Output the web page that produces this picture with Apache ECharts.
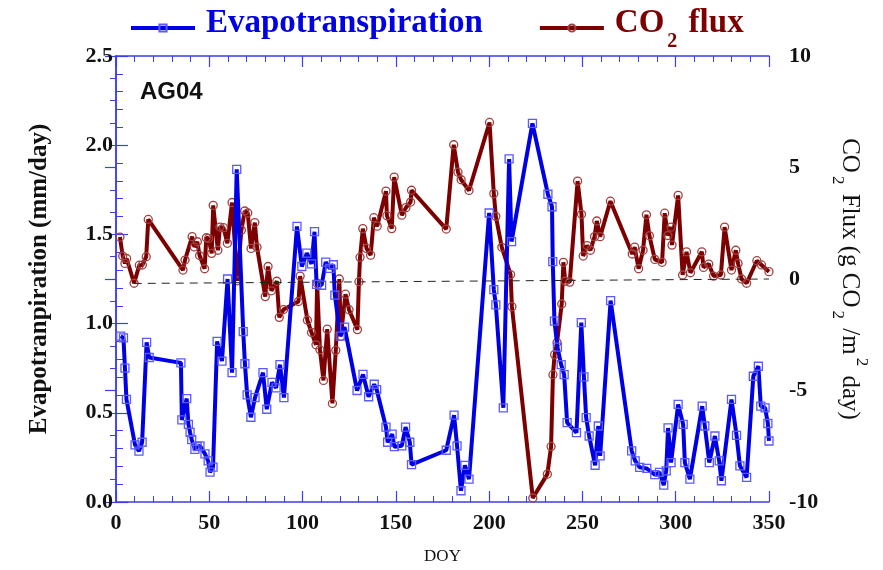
<!DOCTYPE html>
<html>
<head>
<meta charset="utf-8">
<script src="https://cdn.jsdelivr.net/npm/echarts@6/dist/echarts.min.js"></script>
<style>html,body{margin:0;padding:0;background:#fff}#c{width:883px;height:570px}</style>
</head>
<body>
<div id="c"></div>
<script>
// ---- data ----
const etDoy = [2.5,4,4.8,5.6,10.2,12.3,14,16.4,17.8,34.8,35.3,37.9,38.8,39.7,40.6,42.3,43.5,45,47.7,49.4,50.4,52,54.2,56.8,59.8,62.2,64.7,68.2,69.1,70.3,72.3,74.5,78.8,80.8,83.6,85.8,87.9,90,97,99.6,102.3,104.8,106.4,107.5,110.2,112.4,114.6,116.5,117.3,120.2,122.5,129.2,132.4,135.4,138.4,139.7,144.7,145.6,148,149.2,153.2,155.2,157.5,158.4,177,181.2,182.8,184.9,187,189.2,200,202.5,203.6,207.6,210.7,212,223.2,231.5,233.7,234.1,235,236.6,238.6,240.2,241.8,246.8,249.4,250.8,252,253.6,256.8,258.5,259.5,265.1,276.4,278.3,280.7,284.5,288.8,291.3,293.6,294.9,295.9,297.5,301.3,304,304.9,307.6,314.2,315.6,318,321,323.3,324.5,329.9,332.6,334.4,338,341.6,344.3,345.6,347.9,349.4,350];
const etVal = [0.93,0.92,0.75,0.575,0.32,0.285,0.335,0.895,0.81,0.78,0.46,0.58,0.435,0.39,0.35,0.295,0.31,0.315,0.27,0.23,0.167,0.195,0.9,0.79,1.25,0.725,1.865,0.955,0.775,0.6,0.475,0.585,0.725,0.52,0.67,0.64,0.77,0.585,1.545,1.32,1.395,1.335,1.515,1.22,1.215,1.345,1.31,1.33,1.16,0.93,0.98,0.625,0.715,0.59,0.66,0.63,0.42,0.335,0.38,0.31,0.315,0.42,0.335,0.21,0.29,0.487,0.315,0.063,0.205,0.128,1.62,1.19,1.105,0.528,1.923,1.46,2.122,1.725,1.655,1.347,1.014,0.868,0.77,0.714,0.445,0.389,1.005,0.701,0.473,0.37,0.206,0.426,0.258,1.129,0.287,0.23,0.194,0.188,0.153,0.166,0.095,0.175,0.415,0.221,0.547,0.435,0.221,0.128,0.537,0.426,0.221,0.37,0.23,0.119,0.575,0.374,0.203,0.138,0.705,0.761,0.537,0.528,0.44,0.342];
const co2Doy = [2.1,3.6,4.8,5.7,9.7,12.5,14.1,16.2,17.3,35.9,37,40.8,42,43.6,44.8,47.5,48.4,49.6,51.3,52.1,54.6,55.7,57.6,59.7,62.2,65,67.2,69,70.6,72.4,74.4,75.6,80,81.5,83.3,86.2,87.5,89.8,97.8,98.7,102.6,104.8,107.2,107.8,109.3,111.2,113.2,116,117.8,119.7,120.5,123,124.9,129.4,130.2,130.8,132.3,134.3,136.5,138.2,140,144.7,145.2,147.8,149.1,153.2,155.4,157.9,158.4,177,181,183.3,185,189.2,200.2,202.5,203.6,206.8,211.5,212.2,223.4,231.2,233.2,234.2,235.1,236.4,238.9,239.8,240.8,243.2,247.4,249.5,250.4,252.5,254.3,256.5,257.7,259.5,265,276.7,278,280.1,282.5,284.3,285.9,288.8,292.7,294.1,295.8,297.5,298,301.3,303.7,305.8,307.9,314,314.9,317.7,320.3,324.2,326.2,329.9,332.2,333.4,335.3,338,343.5,346,350];
const co2Val = [1.88,1.03,0.70,0.92,-0.19,0.62,0.625,1.0,2.67,0.40,0.85,1.9,1.44,1.67,1.05,0.46,1.85,1.82,1.15,3.30,1.29,2.33,2.3,1.6,3.43,-0.08,2.19,3.05,2.96,1.37,2.53,1.42,-0.79,0.56,-0.53,-0.1,-1.72,-1.37,-1.01,0.13,-1.85,-2.4,-2.95,-0.19,-3.17,-4.55,-2.25,-5.58,-3.2,0.0,-2.57,-0.68,-1.38,-2.27,-0.12,0.97,2.26,1.37,1.07,2.75,2.37,3.94,2.84,2.26,4.57,2.86,3.2,3.45,3.98,2.24,6.02,4.79,4.45,3.97,7.02,3.83,2.81,1.42,0.2,-1.24,-9.82,-8.75,-7.51,-4.29,-3.39,-2.85,-1.12,0.75,-0.1,-0.14,4.39,2.9,1.03,1.5,1.29,1.9,2.6,1.9,3.49,1.12,1.43,0.46,1.29,2.88,1.94,0.88,0.75,2.95,1.95,2.33,1.52,3.75,0.18,1.22,0.28,1.22,0.52,0.67,0.13,0.18,2.33,0.40,1.29,0.7,0.0,-0.19,0.82,0.63,0.33];
const xTicks = [0, 350, 50];      // min, max, interval (DOY)
const etTicks = [0, 2.5, 0.5];    // left axis
const co2Ticks = [-10, 10, 5];    // right axis
const zeroLine = [[9.5, -0.2], [350, 0]];
const siteLabel = 'AG04';

const AX = '#3c3cf0';
const BLUE = '#0000e6';
const RED = '#7d0000';
const SERIF = '"Liberation Serif","DejaVu Serif",serif';

const chart = echarts.init(document.getElementById('c'), null, {renderer: 'canvas'});

function xAx(pos, show) {
  return {
    type: 'value', position: pos, min: xTicks[0], max: xTicks[1], interval: xTicks[2],
    name: show ? 'DOY' : '', nameLocation: 'middle', nameGap: 46,
    nameTextStyle: {fontFamily: SERIF, fontSize: 17, color: '#111'},
    axisLine: {show: true, onZero: false, lineStyle: {color: AX, width: 1.5}},
    axisTick: {show: true, inside: true, length: 11, lineStyle: {color: AX, width: 1.2}},
    minorTick: {show: true, splitNumber: 5, length: 6, lineStyle: {color: AX, width: 1}},
    axisLabel: {show: show, margin: 10, fontFamily: SERIF, fontWeight: 'bold', fontSize: 22, color: '#111'},
    splitLine: {show: false}
  };
}

chart.setOption({
  backgroundColor: '#ffffff',
  animation: false,
  grid: {left: 116, right: 114, top: 56, bottom: 67, containLabel: false},
  legend: {
    top: 2, left: 124, itemWidth: 64, itemHeight: 9, itemGap: 55,
    selectedMode: false,
    lineStyle: {width: 4},
    data: [
      {name: 'Evapotranspiration', textStyle: {color: BLUE}},
      {name: 'CO2 flux', textStyle: {color: RED}}
    ],
    formatter: function (n) {
      return n === 'CO2 flux' ? '{r|CO}{s|2}{q| flux}' : '{b|' + n + '}';
    },
    textStyle: {
      fontFamily: SERIF, fontWeight: 'bold', fontSize: 33,
      rich: {
        b: {fontFamily: SERIF, fontWeight: 'bold', fontSize: 33, color: BLUE, lineHeight: 42, verticalAlign: 'top', padding: [0,0,0,6]},
        r: {fontFamily: SERIF, fontWeight: 'bold', fontSize: 33, color: RED, lineHeight: 42, verticalAlign: 'top', padding: [0,0,0,6]},
        q: {fontFamily: SERIF, fontWeight: 'bold', fontSize: 33, color: RED, lineHeight: 42, verticalAlign: 'top'},
        s: {fontFamily: SERIF, fontWeight: 'bold', fontSize: 20, color: RED, lineHeight: 42, verticalAlign: 'top', padding: [25,3,0,3]}
      }
    }
  },
  xAxis: [xAx('bottom', true), xAx('top', false)],
  yAxis: [
    {
      type: 'value', position: 'left', min: etTicks[0], max: etTicks[1], interval: etTicks[2],
      name: 'Evapotranpiration (mm/day)', nameLocation: 'middle', nameGap: 64, nameRotate: 90,
      nameTextStyle: {fontFamily: SERIF, fontWeight: 'bold', fontSize: 25, color: '#111'},
      axisLine: {show: true, lineStyle: {color: AX, width: 1.5}},
      axisTick: {show: true, inside: true, length: 12, lineStyle: {color: AX, width: 1.2}},
      minorTick: {show: true, splitNumber: 5, length: 7, lineStyle: {color: AX, width: 1}},
      axisLabel: {margin: 3, fontFamily: SERIF, fontWeight: 'bold', fontSize: 22, color: '#111',
        formatter: v => v.toFixed(1)},
      splitLine: {show: false}
    },
    {
      type: 'value', position: 'right', min: co2Ticks[0], max: co2Ticks[1], interval: co2Ticks[2],
      name: '{n|CO}{sub|2}{n| Flux (g CO}{sub|2}{n| /m}{sup|2}{n| day)}',
      nameLocation: 'middle', nameGap: 50, nameRotate: -90,
      nameTextStyle: {
        fontFamily: SERIF, fontSize: 25, color: '#111',
        rich: {
          n: {fontFamily: SERIF, fontSize: 25, color: '#111', lineHeight: 40, verticalAlign: 'top', padding: [8,0,0,0]},
          sub: {fontFamily: SERIF, fontSize: 17, color: '#111', lineHeight: 40, verticalAlign: 'top', padding: [24,3,0,3]},
          sup: {fontFamily: SERIF, fontSize: 17, color: '#111', lineHeight: 40, verticalAlign: 'top', padding: [0,3,0,3]}
        }
      },
      axisLine: {show: true, lineStyle: {color: AX, width: 1.5}},
      axisTick: {show: true, inside: true, length: 11, lineStyle: {color: AX, width: 1.2}},
      minorTick: {show: true, splitNumber: 5, length: 6, lineStyle: {color: AX, width: 1}},
      axisLabel: {margin: 20, fontFamily: SERIF, fontWeight: 'bold', fontSize: 22, color: '#111'},
      splitLine: {show: false}
    }
  ],
  graphic: [{
    type: 'text', left: 140, top: 80,
    style: {text: siteLabel, font: 'bold 24px "Liberation Sans", Arial, sans-serif', fill: '#111'}
  }],
  series: [
    {
      name: 'CO2 flux', type: 'line', xAxisIndex: 0, yAxisIndex: 1, z: 2, clip: false,
      data: co2Doy.map((d, i) => [d, co2Val[i]]),
      symbol: 'circle', symbolSize: 8,
      lineStyle: {color: RED, width: 4},
      itemStyle: {color: 'rgba(255,255,255,0)', borderColor: '#a04040', borderWidth: 1.3},
      markLine: {
        silent: true, symbol: 'none', label: {show: false},
        lineStyle: {color: '#222', type: [8, 6], width: 1},
        data: [[{coord: zeroLine[0]}, {coord: zeroLine[1]}]]
      }
    },
    {
      name: 'Evapotranspiration', type: 'line', xAxisIndex: 0, yAxisIndex: 0, z: 3, clip: false,
      data: etDoy.map((d, i) => [d, etVal[i]]),
      symbol: 'rect', symbolSize: 8,
      lineStyle: {color: BLUE, width: 4},
      itemStyle: {color: 'rgba(255,255,255,0)', borderColor: '#5a5aff', borderWidth: 1.3}
    }
  ]
});
</script>
</body>
</html>
